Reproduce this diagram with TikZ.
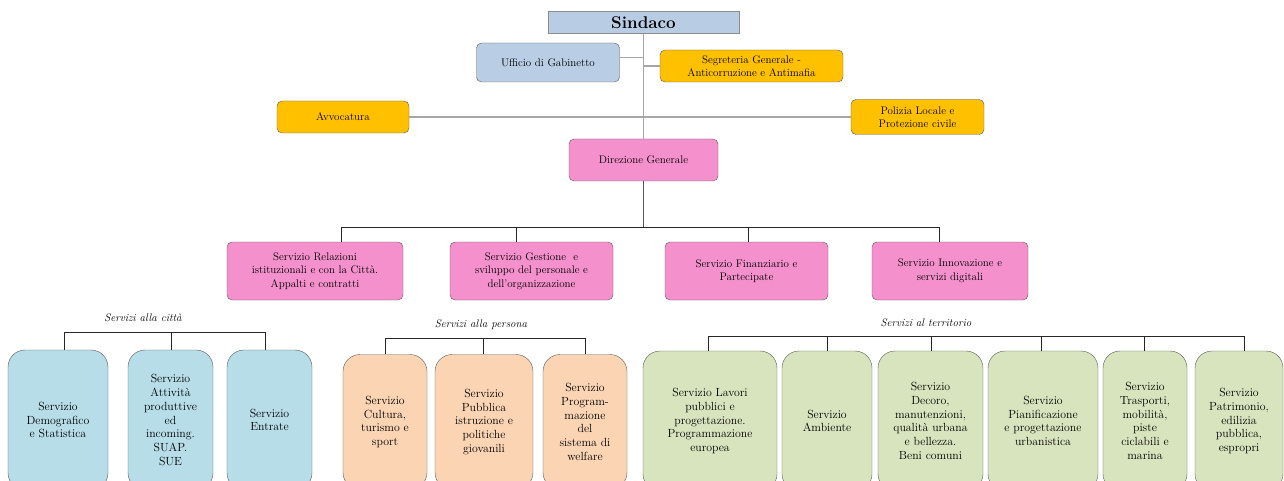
\documentclass[tikz,border=0pt]{standalone}
\usepackage{xcolor}
\usepackage{tikz}
\usetikzlibrary{positioning}

\definecolor{mayorblue}{HTML}{B8CCE4}
\definecolor{staffblue}{HTML}{B9CDE5}
\definecolor{staffgold}{HTML}{FFC000}
\definecolor{directpink}{HTML}{F490CC}
\definecolor{cityblue}{HTML}{B7DDE8}
\definecolor{personpeach}{HTML}{FBD4B4}
\definecolor{landgreen}{HTML}{D7E4BD}
\definecolor{boxedge}{HTML}{5A5A5A}
\definecolor{staffline}{HTML}{A6A6A6}

\begin{document}
\begin{tikzpicture}[x=1pt, y=-1pt,
		% Define styles for the boxes and the lines
		mayor_box/.style={
			rectangle,
			draw=black!45,
			fill=mayorblue,
			minimum width=191pt,
			minimum height=22pt,
			inner sep=0pt,
			font=\fontsize{17}{20}\selectfont\bfseries
		},
		office_box/.style={
			rectangle,
			draw=boxedge,
			thin,
			rounded corners=5pt,
			align=center,
			inner sep=0pt,
			font=\fontsize{11}{13.5}\selectfont
		},
		service_box/.style={
			rectangle,
			draw=boxedge,
			thin,
			rounded corners=17pt,
			align=center,
			inner sep=0pt,
			minimum height=140pt,
			font=\fontsize{11.8}{13.8}\selectfont
		},
		group_label/.style={
			font=\fontsize{11}{13}\selectfont\itshape
		},
		staff_line/.style={
			draw=staffline,
			line width=1.2pt
		},
		tree_line/.style={
			draw=black!85,
			line width=0.8pt
		},
		]
		
		\useasboundingbox (0,0) rectangle (1284,481);
		\clip (0,0) rectangle (1284,481);
		
		% ----- Nodes -----
		% Top of the organisation
		\node[mayor_box] (sindaco) at (643.5, 22.5) {Sindaco};
		\node[office_box, fill=staffblue, minimum width=143pt, minimum height=39pt] (gabinetto) at (548, 62.5) {Ufficio di Gabinetto};
		\node[office_box, fill=staffgold, minimum width=183pt, minimum height=32pt] (segreteria) at (751.5, 66) {Segreteria Generale -\\Anticorruzione e Antimafia};
		\node[office_box, fill=staffgold, minimum width=132pt, minimum height=32pt] (avvocatura) at (343, 117) {Avvocatura};
		\node[office_box, fill=staffgold, minimum width=133pt, minimum height=35pt] (polizia) at (917.5, 117) {Polizia Locale e\\Protezione civile};
		\node[office_box, fill=directpink, minimum width=149pt, minimum height=42pt] (direzione) at (643.5, 160) {Direzione Generale};
		
		% Services under the Direzione Generale
		\node[office_box, fill=directpink, minimum width=176pt, minimum height=58pt] (relazioni) at (315, 271) {Servizio Relazioni\\istituzionali e con la Città.\\Appalti e contratti};
		\node[office_box, fill=directpink, minimum width=163pt, minimum height=58pt] (personale) at (531.5, 271) {Servizio Gestione\ \ e\\sviluppo del personale e\\dell’organizzazione};
		\node[office_box, fill=directpink, minimum width=163pt, minimum height=58pt] (finanziario) at (746.5, 271) {Servizio Finanziario e\\Partecipate};
		\node[office_box, fill=directpink, minimum width=156pt, minimum height=58pt] (innovazione) at (950, 271) {Servizio Innovazione e\\servizi digitali};
		
		% Servizi alla citta
		\node[group_label] (citta_label) at (143, 318) {Servizi alla città};
		\node[service_box, fill=cityblue, minimum width=100pt] (demografico) at (58, 420) {Servizio\\Demografico\\e Statistica};
		\node[service_box, fill=cityblue, minimum width=85pt] (attivita) at (170.5, 420) {Servizio\\Attività\\produttive\\ed\\incoming.\\SUAP.\\SUE};
		\node[service_box, fill=cityblue, minimum width=85pt] (entrate) at (269.5, 420) {Servizio\\Entrate};
		
		% Servizi alla persona
		\node[group_label] (persona_label) at (481, 325) {Servizi alla persona};
		\node[service_box, fill=personpeach, minimum width=84pt, minimum height=135pt] (cultura) at (385, 422) {Servizio\\Cultura,\\turismo e\\sport};
		\node[service_box, fill=personpeach, minimum width=98pt, minimum height=135pt] (istruzione) at (484, 422) {Servizio\\Pubblica\\istruzione e\\politiche\\giovanili};
		\node[service_box, fill=personpeach, minimum width=84pt, minimum height=135pt] (welfare) at (585, 422) {Servizio\\Program-\\mazione\\del\\sistema di\\welfare};
		
		% Servizi al territorio
		\node[group_label] (territorio_label) at (926, 323) {Servizi al territorio};
		\node[service_box, fill=landgreen, minimum width=134pt] (lavori) at (710, 421) {Servizio Lavori\\pubblici e\\progettazione.\\Programmazione\\europea};
		\node[service_box, fill=landgreen, minimum width=90pt] (ambiente) at (827, 421) {Servizio\\Ambiente};
		\node[service_box, fill=landgreen, minimum width=105pt] (decoro) at (930.5, 421) {Servizio\\Decoro,\\manutenzioni,\\qualità urbana\\e bellezza.\\Beni comuni};
		\node[service_box, fill=landgreen, minimum width=110pt] (pianificazione) at (1043, 421) {Servizio\\Pianificazione\\e progettazione\\urbanistica};
		\node[service_box, fill=landgreen, minimum width=84pt] (trasporti) at (1145, 421) {Servizio\\Trasporti,\\mobilità,\\piste\\ciclabili e\\marina};
		\node[service_box, fill=landgreen, minimum width=88pt] (patrimonio) at (1239, 421) {Servizio\\Patrimonio,\\edilizia\\pubblica,\\espropri};
		
		% Points where the branches leave the bars
		\coordinate (drop_rel) at (341, 227);
		\coordinate (drop_per) at (516, 227);
		\coordinate (drop_fin) at (748, 227);
		\coordinate (drop_inn) at (939, 227);
		\coordinate (drop_dem) at (64, 332);
		\coordinate (drop_att) at (171, 332);
		\coordinate (drop_ent) at (265, 332);
		\coordinate (drop_cul) at (385, 338);
		\coordinate (drop_ist) at (483, 338);
		\coordinate (drop_wel) at (585, 338);
		\coordinate (drop_lav) at (708, 336);
		\coordinate (drop_amb) at (827, 336);
		\coordinate (drop_dec) at (931, 336);
		\coordinate (drop_pia) at (1041, 336);
		\coordinate (drop_tra) at (1144, 336);
		\coordinate (drop_pat) at (1244, 336);
		
		% ----- Lines -----
		% Staff offices hanging off the Sindaco
		\draw[staff_line] (sindaco.south) -- (direzione.north);
		\draw[staff_line] ([yshift=5pt]gabinetto.east) -- ([yshift=5pt]gabinetto.east -| sindaco.south);
		\draw[staff_line] (segreteria.west -| sindaco.south) -- (segreteria.west);
		\draw[staff_line] (avvocatura.east) -- (polizia.west);
		
		% Direzione Generale to its services
		\draw[tree_line, draw=black!65] (direzione.south) -- (direzione.south |- drop_rel);
		\draw[tree_line] (drop_rel) -- (drop_inn);
		\draw[tree_line] (drop_rel) -- (drop_rel |- relazioni.north);
		\draw[tree_line] (drop_per) -- (drop_per |- personale.north);
		\draw[tree_line] (drop_fin) -- (drop_fin |- finanziario.north);
		\draw[tree_line] (drop_inn) -- (drop_inn |- innovazione.north);
		
		% The three groups of services
		\draw[tree_line] (drop_dem) -- (drop_ent);
		\foreach \d/\b in {dem/demografico, att/attivita, ent/entrate, cul/cultura, ist/istruzione, wel/welfare, lav/lavori, amb/ambiente, dec/decoro, pia/pianificazione, tra/trasporti, pat/patrimonio}
			\draw[tree_line] (drop_\d) -- (drop_\d |- \b.north);
		\draw[tree_line] (drop_cul) -- (drop_wel);
		\draw[tree_line] (drop_lav) -- (drop_pat);
		
	\end{tikzpicture}
\end{document}
